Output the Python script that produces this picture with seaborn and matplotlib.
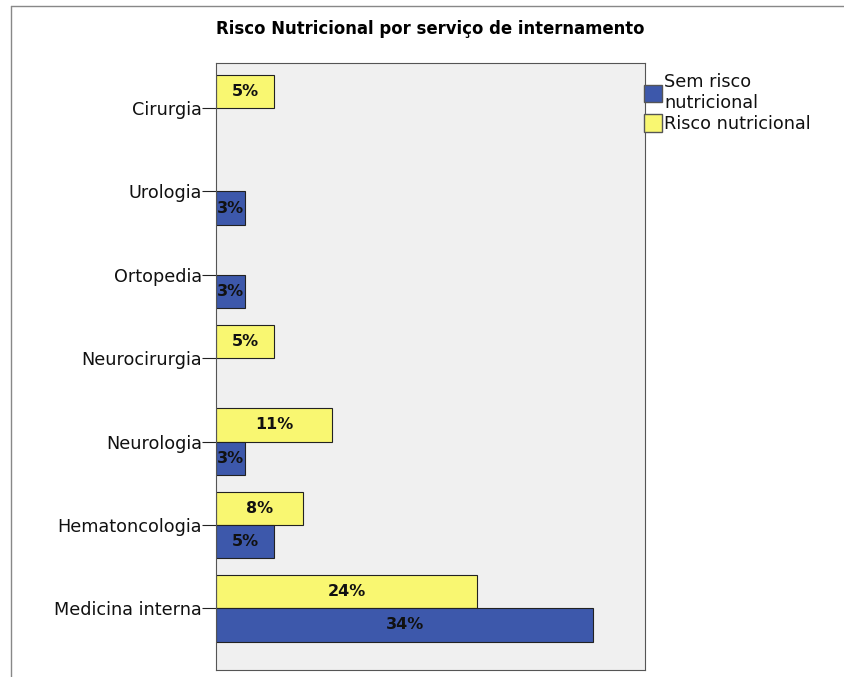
import pandas as pd
import matplotlib.pyplot as plt
import seaborn as sns
from matplotlib.patches import Patch
from matplotlib.lines import Line2D

# Services (top to bottom) and percentages
servicos = ["Cirurgia", "Urologia", "Ortopedia", "Neurocirurgia",
            "Neurologia", "Hematoncologia", "Medicina interna"]
risco_pct = [5.26, None, None, 5.26, 10.53, 7.89, 23.68]
sem_risco_pct = [None, 2.63, 2.63, None, 2.63, 5.26, 34.21]
grupos = ["Risco nutricional", "Sem risco nutricional"]
cores = {"Risco nutricional": "#F9F771", "Sem risco nutricional": "#3D58AB"}

rows = []
for s, r, sr in zip(servicos, risco_pct, sem_risco_pct):
    if r is not None:
        rows.append({"Servico": s, "Grupo": grupos[0], "Pct": r})
    if sr is not None:
        rows.append({"Servico": s, "Grupo": grupos[1], "Pct": sr})
df = pd.DataFrame(rows)

sns.set_style("white")
plt.rcParams['font.family'] = ['DejaVu Sans']
plt.rcParams['text.color'] = 'black'

fig = plt.figure(figsize=(8.44, 6.77), dpi=100)
ax = fig.add_axes([216 / 844, 1 - 670 / 677, (645 - 216) / 844, (670 - 63) / 677])
ax.set_facecolor("#F0F0F0")

sns.barplot(data=df, y="Servico", x="Pct", hue="Grupo", order=servicos,
            hue_order=grupos, palette=cores, saturation=1, orient="h", width=0.8,
            edgecolor="#222222", linewidth=0.8, errorbar=None, ax=ax,
            legend=False)

for cont in ax.containers:
    ax.bar_label(cont, labels=[f"{v:.0f}%" for v in cont.datavalues],
                 label_type="center", fontsize=11.5, fontweight="bold", color="#111111")

ax.set_xlim(0, 38.9)
ax.set_ylim(6.74, -0.54)
ax.set_xticks([])
ax.set_xlabel("")
ax.set_ylabel("")
ax.tick_params(axis="y", length=10, width=0.8, color="#222222", labelsize=12.7,
               labelcolor="#111111", pad=0, left=True)
for sp in ax.spines.values():
    sp.set_color("#555555")
    sp.set_linewidth(0.8)

ax.set_title("Risco Nutricional por serviço de internamento",
             fontsize=11.9, fontweight="bold", pad=21, color="black")

handles = [Patch(facecolor=cores["Sem risco nutricional"], edgecolor="#555555"),
           Patch(facecolor=cores["Risco nutricional"], edgecolor="#555555")]
fig.legend(handles, ["Sem risco\nnutricional", "Risco nutricional"],
           loc="upper left", bbox_to_anchor=(644 / 844, 1 - 73 / 677),
           frameon=False, fontsize=12.7, handlelength=1.0, handleheight=1.15,
           handletextpad=0.15, borderaxespad=0, borderpad=0, labelspacing=0.15,
           labelcolor="#111111")

# outer frame (top and left edges)
fig.add_artist(Line2D([11 / 844, 1], [1 - 6 / 677, 1 - 6 / 677], color="#888888", lw=1))
fig.add_artist(Line2D([11 / 844, 11 / 844], [0, 1 - 6 / 677], color="#888888", lw=1))

fig.savefig("out.png", dpi=100)
